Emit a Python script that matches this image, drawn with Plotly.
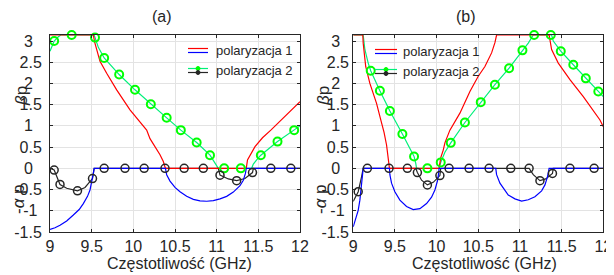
import numpy as np
import plotly.graph_objects as go

PI = float(np.pi)

# ---------------- panel (a) ----------------
a_red_x = [9.0, 9.52, 9.535, 9.56, 9.6, 9.68, 9.8, 9.96, 10.08, 10.16, 10.2, 10.26, 10.32, 10.36, 10.385,
           11.355, 11.37, 11.46, 11.55, 11.65, 11.8, 12.0]
a_red_y = [PI, PI, 2.98, 2.8, 2.52, 2.24, 1.85, 1.38, 1.1, 0.9, 0.7, 0.52, 0.32, 0.16, 0.0,
           0.0, 0.2, 0.51, 0.72, 0.9, 1.18, 1.57]

a_blue_x = [9.0, 9.06, 9.12, 9.2, 9.28, 9.35, 9.4, 9.45, 9.48, 9.505, 9.52, 9.53,
            10.385, 10.4, 10.44, 10.5, 10.56, 10.64, 10.72, 10.8, 10.88, 10.96, 11.04, 11.12, 11.2,
            11.28, 11.32, 11.345, 11.355, 12.0]
a_blue_y = [-1.44, -1.4, -1.34, -1.24, -1.1, -0.97, -0.83, -0.66, -0.51, -0.3, -0.12, 0.0,
            0.0, -0.15, -0.3, -0.45, -0.55, -0.66, -0.73, -0.765, -0.775, -0.76, -0.72, -0.66, -0.56,
            -0.41, -0.28, -0.12, 0.0, 0.0]

a_green_x = [9.0, 9.05, 9.1, 9.13, 9.53, 9.54, 9.58, 9.65, 9.83, 10.02, 10.21, 10.4, 10.57, 10.76, 10.92,
             10.97, 11.0, 11.02, 11.42, 11.44, 11.48, 11.53, 11.73, 11.93, 12.0]
a_green_y = [2.76, 3.0, 3.1, PI, PI, 3.08, 2.85, 2.6, 2.21, 1.85, 1.51, 1.19, 0.9, 0.61, 0.31,
             0.17, 0.07, 0.0, 0.0, 0.1, 0.2, 0.31, 0.63, 0.9, 1.0]
a_green_mx = [9.05, 9.26, 9.54, 9.65, 9.83, 10.02, 10.21, 10.4, 10.57, 10.76, 10.92, 11.09, 11.29,
              11.53, 11.73, 11.93]
a_green_my = [3.0, PI, 3.08, 2.6, 2.21, 1.85, 1.51, 1.19, 0.9, 0.61, 0.31, 0.0, 0.0,
              0.31, 0.63, 0.9]

a_black_x = [9.0, 9.05, 9.12, 9.2, 9.33, 9.42, 9.51, 9.53, 11.02, 11.04, 11.14, 11.24, 11.34, 11.43, 11.44, 12.0]
a_black_y = [0.0, -0.04, -0.38, -0.47, -0.53, -0.45, -0.24, 0.0, 0.0, -0.16, -0.25, -0.29, -0.24, -0.1, 0.0, 0.0]
a_black_mx = [9.05, 9.12, 9.33, 9.51, 9.65, 9.9, 10.13, 10.38, 10.61, 10.84, 11.04, 11.24, 11.43, 11.65, 11.89]
a_black_my = [-0.04, -0.38, -0.53, -0.24, 0, 0, 0, 0, 0, 0, -0.16, -0.29, -0.1, 0, 0]

# ---------------- panel (b) ----------------
b_red_x = [9.0, 9.115, 9.12, 9.13, 9.15, 9.2, 9.28, 9.33, 9.37, 9.4, 9.42, 9.435,
           10.03, 10.05, 10.08, 10.1, 10.16, 10.28, 10.4, 10.5, 10.58, 10.66, 10.7, 10.72,
           11.35, 11.36, 11.38, 11.46, 11.6, 11.76, 11.96, 12.0]
b_red_y = [PI, PI, 2.95, 2.7, 2.4, 2.0, 1.53, 1.15, 0.85, 0.55, 0.3, 0.0,
           0.0, 0.25, 0.43, 0.6, 0.9, 1.3, 1.81, 2.17, 2.4, 2.72, 2.96, PI,
           PI, 3.0, 2.8, 2.48, 2.09, 1.69, 1.14, 0.98]

b_blue_x = [9.0, 9.03, 9.06, 9.08, 9.1, 9.115, 9.12, 9.435, 9.44, 9.46, 9.5, 9.56, 9.64, 9.72, 9.8, 9.88,
            9.94, 9.98, 10.01, 10.025, 10.03, 10.71, 10.72, 10.76, 10.86, 10.94, 11.02, 11.1, 11.18,
            11.26, 11.3, 11.33, 11.345, 11.35, 12.0]
b_blue_y = [-1.38, -1.2, -0.99, -0.75, -0.43, -0.15, 0.0, 0.0, -0.15, -0.35, -0.55, -0.75, -0.9, -0.97, -0.95, -0.83,
            -0.68, -0.51, -0.3, -0.12, 0.0, 0.0, -0.15, -0.35, -0.63, -0.72, -0.77, -0.74, -0.67,
            -0.53, -0.39, -0.2, -0.04, 0.0, 0.0]

b_green_x = [9.0, 9.12, 9.125, 9.14, 9.18, 9.21, 9.32, 9.44, 9.59, 9.73, 9.75, 9.76, 10.03, 10.04, 10.05,
             10.1, 10.17, 10.34, 10.53, 10.7, 10.87, 11.03, 11.1, 11.16, 11.38, 11.4, 11.49, 11.64,
             11.79, 11.94, 12.0]
b_green_y = [PI, PI, 3.05, 2.8, 2.48, 2.3, 1.83, 1.35, 0.81, 0.28, 0.12, 0.0, 0.0, 0.08, 0.14,
             0.38, 0.6, 1.08, 1.56, 1.97, 2.36, 2.78, 2.95, PI, PI, 3.0, 2.76, 2.44,
             2.12, 1.81, 1.69]
b_green_mx = [9.21, 9.32, 9.44, 9.59, 9.73, 9.89, 10.05, 10.17, 10.34, 10.53, 10.7, 10.87, 11.03, 11.17,
              11.37, 11.49, 11.64, 11.79, 11.94]
b_green_my = [2.3, 1.83, 1.35, 0.81, 0.28, 0.0, 0.14, 0.6, 1.08, 1.56, 1.97, 2.36, 2.78, PI,
              PI, 2.76, 2.44, 2.12, 1.81]

b_black_x = [9.0, 9.06, 9.1, 9.12, 9.75, 9.77, 9.82, 9.89, 9.96, 10.04, 10.05, 11.11, 11.16, 11.24, 11.31,
             11.37, 11.39, 11.4, 12.0]
b_black_y = [-0.78, -0.55, -0.2, 0.0, 0.0, -0.1, -0.28, -0.39, -0.33, -0.17, 0.0, 0.0, -0.15, -0.29, -0.25,
             -0.16, -0.12, 0.0, 0.0]
b_black_mx = [9.06, 9.17, 9.43, 9.65, 9.77, 9.89, 10.04, 10.15, 10.39, 10.63, 10.89, 11.11, 11.24, 11.39,
              11.6, 11.89]
b_black_my = [-0.55, 0, 0, 0, -0.1, -0.39, -0.17, 0, 0, 0, 0, 0, -0.29, -0.12, 0, 0]

# ---------------- labels ----------------
x_tickvals = [9, 9.5, 10, 10.5, 11, 11.5, 12]
x_ticktext = ["9", "9.5", "10", "10.5", "11", "11.5", "12"]
NB = "\u00a0"
y_tickvals = [-1.5, -1, -0.5, 0, 0.5, 1, 1.5, 2, 2.5, 3]
y_ticktext = ["-1.5", "-1" + NB, "-0.5", "0" + NB * 2, "0.5", "1" + NB * 2, "1.5", "2" + NB * 2, "2.5", "3" + NB * 2]
x_title = "Częstotliwość (GHz)"
panel_titles = ["(a)", "(b)"]
legend_labels = ["polaryzacja 1", "polaryzacja 2"]

RED = "#ff0000"
BLUE = "#0000ff"
GREEN_LINE = "#00f07a"
GREEN_MK = "#00ff00"
BLACK = "#262626"
AXC = "#262626"
GRID = "#e3e3e3"
FONT = "Liberation Sans, Arial, sans-serif"

# the page body has an 8px margin: the figure is sized to fill the rest of the 614x275 window
OFF = 8
W, H = 614 - OFF, 275 - OFF


def px(x):
    return (x - OFF) / W


def py(y):
    return 1 - (y - OFF) / H


fig = go.Figure()

panels = [
    (a_green_x, a_green_y, a_green_mx, a_green_my, a_black_x, a_black_y, a_black_mx, a_black_my,
     a_red_x, a_red_y, a_blue_x, a_blue_y),
    (b_green_x, b_green_y, b_green_mx, b_green_my, b_black_x, b_black_y, b_black_mx, b_black_my,
     b_red_x, b_red_y, b_blue_x, b_blue_y),
]

for i, p in enumerate(panels):
    gx, gy, gmx, gmy, kx, ky, kmx, kmy, rx, ry, bx, by = p
    xa = "x" if i == 0 else "x2"
    ya = "y" if i == 0 else "y2"
    common = dict(xaxis=xa, yaxis=ya, showlegend=False)
    fig.add_trace(go.Scatter(x=gx, y=gy, mode="lines", line=dict(color=GREEN_LINE, width=1.2), **common))
    fig.add_trace(go.Scatter(x=kx, y=ky, mode="lines", line=dict(color=BLACK, width=1.2), **common))
    fig.add_trace(go.Scatter(x=rx, y=ry, mode="lines", line=dict(color=RED, width=1.2), **common))
    fig.add_trace(go.Scatter(x=bx, y=by, mode="lines", line=dict(color=BLUE, width=1.2), **common))
    fig.add_trace(go.Scatter(x=gmx, y=gmy, mode="markers", cliponaxis=False,
                             marker=dict(symbol="circle-open", size=8, color=GREEN_MK,
                                         line=dict(width=2, color=GREEN_MK)), **common))
    fig.add_trace(go.Scatter(x=kmx, y=kmy, mode="markers", cliponaxis=False,
                             marker=dict(symbol="circle-open", size=8, color=BLACK,
                                         line=dict(width=1.5, color=BLACK)), **common))

xdoms = [[px(50), px(300)], [px(353.2), px(603.3)]]
ydom = [py(232), py(35)]

axis_font = dict(family=FONT, size=16, color=AXC)
for i in range(2):
    sfx = "" if i == 0 else "2"
    fig.update_layout(**{
        "xaxis" + sfx: dict(domain=xdoms[i], range=[9, 12], tickvals=x_tickvals, ticktext=x_ticktext,
                           anchor="y" + sfx, showline=True, mirror="ticks", linecolor=AXC, linewidth=1,
                           ticks="inside", ticklen=3, tickcolor=AXC, showgrid=True, gridcolor=GRID,
                           zeroline=False, tickfont=axis_font, ticklabelstandoff=0, automargin=False),
        "yaxis" + sfx: dict(domain=ydom, range=[-1.5, PI], tickvals=y_tickvals, ticktext=y_ticktext,
                           anchor="x" + sfx, showline=True, mirror="ticks", linecolor=AXC, linewidth=1,
                           ticks="inside", ticklen=3, tickcolor=AXC, showgrid=True, gridcolor=GRID,
                           zeroline=False, tickfont=axis_font, automargin=False,
                           ticklabelstandoff=(4 if i == 0 else 0)),
    })

annotations = []
shapes = []
# panel titles
for cx, t in zip([162, 466], panel_titles):
    annotations.append(dict(x=px(cx), y=py(17), xref="paper", yref="paper", text=t, showarrow=False,
                            font=dict(family=FONT, size=16, color=AXC), xanchor="center", yanchor="middle"))
# x-axis titles
for cx in [179.5, 484]:
    annotations.append(dict(x=px(cx), y=py(263), xref="paper", yref="paper", text=x_title, showarrow=False,
                            font=dict(family=FONT, size=16, color=AXC), xanchor="center", yanchor="middle"))
# y-axis labels (beta p on top half, -alpha p on bottom half)
for bxp, axp in [(22, 18), (324, 320)]:
    annotations.append(dict(x=px(bxp), y=py(96), xref="paper", yref="paper", text="<i>β</i>p", showarrow=False,
                            textangle=-90, font=dict(family=FONT, size=17, color=AXC),
                            xanchor="center", yanchor="middle"))
    annotations.append(dict(x=px(axp), y=py(199), xref="paper", yref="paper", text="-<i>α</i> p", showarrow=False,
                            textangle=-90, font=dict(family=FONT, size=17, color=AXC),
                            xanchor="center", yanchor="middle"))

# manual legends (double line symbols as in the original)
for (lx0, lx1, tx, y1, y2) in [(188, 208, 214, 50.5, 70.5), (375, 397, 401, 51.5, 71.5)]:
    shapes.append(dict(type="line", xref="paper", yref="paper", x0=px(lx0), x1=px(lx1), y0=py(y1 - 2), y1=py(y1 - 2),
                       line=dict(color=RED, width=1.2)))
    shapes.append(dict(type="line", xref="paper", yref="paper", x0=px(lx0), x1=px(lx1), y0=py(y1 + 2), y1=py(y1 + 2),
                       line=dict(color=BLUE, width=1.2)))
    shapes.append(dict(type="line", xref="paper", yref="paper", x0=px(lx0), x1=px(lx1), y0=py(y2 - 2), y1=py(y2 - 2),
                       line=dict(color=GREEN_LINE, width=1.2)))
    shapes.append(dict(type="line", xref="paper", yref="paper", x0=px(lx0), x1=px(lx1), y0=py(y2 + 2), y1=py(y2 + 2),
                       line=dict(color=BLACK, width=1.2)))
    cxm = (lx0 + lx1) / 2
    for yy, col in [(y2 - 2, GREEN_MK), (y2 + 2, BLACK)]:
        shapes.append(dict(type="circle", xref="paper", yref="paper", x0=px(cxm - 2), x1=px(cxm + 2),
                           y0=py(yy + 2), y1=py(yy - 2), line=dict(color=col, width=1), fillcolor=col))
    for yy, lab in [(y1, legend_labels[0]), (y2, legend_labels[1])]:
        annotations.append(dict(x=px(tx), y=py(yy), xref="paper", yref="paper", text=lab, showarrow=False,
                                xanchor="left", yanchor="middle", font=dict(family=FONT, size=13, color=AXC)))

fig.update_layout(width=W, height=H, margin=dict(l=0, r=0, t=0, b=0, autoexpand=False),
                  paper_bgcolor="white", plot_bgcolor="white",
                  annotations=annotations, shapes=shapes, showlegend=False,
                  font=dict(family=FONT, color=AXC))

fig.write_html("out.html")
